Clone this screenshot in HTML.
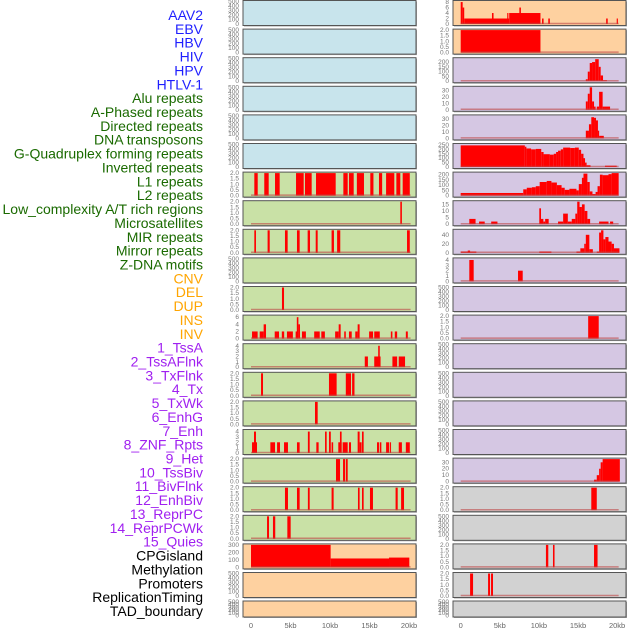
<!DOCTYPE html>
<html><head><meta charset="utf-8"><style>
body{margin:0;background:#fff;}
svg{display:block;font-family:"Liberation Sans",sans-serif;}
</style></head><body>
<svg id="chart" width="630" height="630" viewBox="0 0 630 630" xmlns="http://www.w3.org/2000/svg">
<g id="labels"></g>
<g id="panels"></g>
<g id="xaxes"></g>
</svg>
<script>
const labelNames = ["AAV2","EBV","HBV","HIV","HPV","HTLV-1","Alu repeats","A-Phased repeats","Directed repeats","DNA transposons","G-Quadruplex forming repeats","Inverted repeats","L1 repeats","L2 repeats","Low_complexity A/T rich regions","Microsatellites","MIR repeats","Mirror repeats","Z-DNA motifs","CNV","DEL","DUP","INS","INV","1_TssA","2_TssAFlnk","3_TxFlnk","4_Tx","5_TxWk","6_EnhG","7_Enh","8_ZNF_Rpts","9_Het","10_TssBiv","11_BivFlnk","12_EnhBiv","13_ReprPC","14_ReprPCWk","15_Quies","CPGisland","Methylation","Promoters","ReplicationTiming","TAD_boundary"];
const labelGroups = [0,0,0,0,0,0,1,1,1,1,1,1,1,1,1,1,1,1,1,2,2,2,2,2,3,3,3,3,3,3,3,3,3,3,3,3,3,3,3,4,4,4,4,4];
const xTickValues = [0,5,10,15,20];
const xTickLabels = ["0","5kb","10kb","15kb","20kb"];

// left column panels (kb start, kb end, value)
const leftBg = ["b","b","b","b","b","b","g","g","g","g","g","g","g","g","g","g","g","g","g","o","o","o"];
const leftYmax = [500,500,500,500,500,500,2,2,2,500,2,6.3,4.2,2,2,4.2,2,2,2,300,500,500];
const leftSegs = [
 [],[],[],[],[],[],
 [[0.42,0.85,2],[1.68,2.24,2],[3.04,3.63,2],[5.7,6.67,2],[6.83,7.68,2],[8.23,10.72,2],[11.69,12.24,2],[12.4,13.0,2],[13.4,14.3,2],[15.1,15.5,2],[16.2,16.6,2],[17.1,18.14,2],[18.4,18.9,2],[19.2,20.1,2]],
 [[18.9,19.1,2]],
 [[0.42,0.63,2],[2.1,2.37,2],[4.3,4.64,2],[5.82,6.16,2],[7.17,7.47,2],[8.19,8.44,2],[10.2,10.5,2],[10.9,11.3,2],[19.75,20.1,2]],
 [],
 [[3.92,4.18,2]],
 [[0.13,0.84,2],[1.1,1.6,2],[1.6,1.9,4],[3.0,3.55,2],[3.9,4.2,2],[4.55,5.3,2],[5.65,5.95,2],[6.0,6.2,4],[5.8,6.0,6],[6.45,6.95,2],[8.0,8.7,2],[8.9,9.35,2],[10.65,11.1,2],[11.1,11.35,4],[11.8,12.0,2],[12.4,12.75,2],[13.2,13.5,2],[13.5,13.75,4],[14.95,15.45,2],[15.6,16.3,2],[17.7,17.9,2],[18.2,18.5,2],[19.6,19.85,2]],
 [[14.4,14.8,2],[15.6,16.4,2],[16.1,16.3,4],[17.9,18.5,2],[18.7,19.5,2]],
 [[1.27,1.52,2],[9.87,10.84,2],[12.0,12.66,2],[12.8,13.1,2]],
 [[8.1,8.44,2]],
 [[0.13,0.76,2],[0.38,0.63,4],[2.45,3.04,2],[3.3,3.67,2],[4.18,4.68,2],[5.82,6.16,2],[7.2,7.43,4],[8.27,8.56,2],[9.37,9.58,4],[9.87,10.1,4],[10.2,10.4,2],[11.05,11.47,2],[11.26,11.47,4],[11.6,12.24,2],[12.4,12.66,2],[13.5,13.75,4],[13.75,14.0,2],[14.05,14.26,4],[15.95,16.2,2],[16.3,16.5,2],[17.1,17.5,2],[17.6,17.7,2],[18.7,19.1,2],[19.6,20.1,2]],
 [[10.76,11.27,2],[11.65,11.9,2],[12.0,12.24,2]],
 [[4.3,4.68,2],[5.82,6.16,2],[7.2,7.43,2],[10.2,10.46,2],[13.54,13.75,2],[14.05,14.26,2],[15.06,15.44,2],[18.3,18.57,2],[19.0,19.37,2]],
 [[2.03,2.28,2],[2.78,3.07,2],[4.6,5.02,2]],
 [[0,10.08,300],[10.08,17.47,119],[17.47,20.04,131]],
 [],[]
];

// right column panels
const rightBg = ["o","o","p","p","p","p","p","p","p","p","p","p","p","p","p","p","p","y","y","y","y","y"];
const rightYmax = [8.2,2,235,35,35,255,215,17,50,4.2,500,2,500,500,500,500,35,2,500,2,2,500];
const rightSegs = [
 [[0,0.25,8],[0.25,0.45,6],[0.45,6.2,2],[4.0,4.2,4],[5.95,6.1,4],[6.2,10.2,4],[7.5,7.7,6],[10.4,10.6,2],[11.2,11.4,2],[18.6,18.8,2],[19.95,20.1,2]],
 [[0,10.2,2]],
 [[16.0,16.25,20],[16.25,16.5,100],[16.5,16.8,190],[16.8,17.2,200],[17.2,17.65,230],[17.65,17.9,150],[17.9,18.2,60],[18.2,18.7,10]],
 [[16.0,16.25,13],[16.25,16.5,25],[16.5,16.8,35],[16.8,17.05,13],[17.05,17.25,5],[17.4,17.7,5],[17.7,18.15,28],[18.15,18.45,5],[18.45,19.1,5]],
 [[16.0,16.4,12],[16.4,16.7,22],[16.7,17.05,33],[17.05,17.3,32],[17.3,17.55,28],[17.55,17.7,12],[17.7,18.3,4]],
 [[0,8.2,245],[8.2,8.4,230],[8.4,9.0,210],[9.0,9.6,200],[9.6,10.3,205],[10.3,10.6,170],[10.6,11.4,145],[11.4,11.9,140],[11.9,12.2,150],[12.2,12.45,170],[12.45,12.8,185],[12.8,13.1,200],[13.1,14.0,220],[14.0,14.6,215],[14.6,15.1,220],[15.1,15.4,195],[15.4,15.7,150],[15.7,15.9,100],[15.9,16.1,50],[16.1,16.6,20],[18.45,19.95,15]],
 [[0,8.0,25],[8.0,8.45,60],[8.45,9.1,75],[9.1,9.6,80],[9.6,10.1,90],[10.1,11.0,130],[11.0,11.6,140],[11.6,12.3,125],[12.3,12.9,100],[12.9,13.3,75],[13.3,13.9,55],[13.9,14.8,65],[14.8,15.1,50],[15.1,15.5,110],[15.5,15.7,170],[15.7,16.2,210],[16.2,16.5,130],[16.5,16.85,40],[16.85,17.25,15],[17.25,17.5,35],[17.5,17.8,90],[17.8,18.15,200],[18.15,18.9,195],[18.9,19.3,205],[19.3,20.2,215]],
 [[1.1,1.9,4],[2.35,3.07,2],[3.9,4.7,2],[10.05,10.27,12],[10.27,10.57,4],[10.57,10.8,2],[10.8,11.25,4],[12.45,13.1,2],[13.1,13.7,8],[13.7,14.2,2],[14.2,14.66,4],[14.66,14.9,8],[14.9,15.2,17],[15.2,15.5,13],[15.5,15.85,15],[15.85,16.2,10],[16.2,16.55,4],[17.7,18.9,2],[19.1,19.5,2]],
 [[0,2.0,3],[0.9,1.2,5],[10.05,11.6,3],[14.8,15.3,3],[15.3,15.8,10],[15.8,16.0,20],[16.0,16.45,40],[16.45,16.9,8],[17.4,17.7,3],[17.7,17.95,45],[17.95,18.25,50],[18.25,18.5,30],[18.5,18.9,35],[18.9,19.3,25],[19.3,19.6,20],[19.6,20.3,10]],
 [[1.1,1.66,4],[7.33,7.93,2]],
 [],
 [[16.3,17.65,2]],
 [],[],[],[],
 [[17.05,17.4,3],[17.4,17.7,10],[17.7,17.9,20],[17.9,18.15,30],[18.15,20.35,35]],
 [[16.7,17.4,2]],
 [],
 [[10.9,11.2,2],[11.8,12.0,2],[17.05,17.5,2]],
 [[1.2,1.58,2],[3.5,3.75,2],[3.88,4.13,2]],
 []
];

const NS="http://www.w3.org/2000/svg";
function mk(tag,attrs,parent){const e=document.createElementNS(NS,tag);for(const k in attrs)e.setAttribute(k,attrs[k]);parent.appendChild(e);return e;}
const groupColors=["#1f1fff","#1a6a00","#ffa500","#a020f0","#000000"];
const bgColors={b:"#c8e4ec",g:"#c9e1a6",o:"#fed1a0",p:"#d5c7e3",y:"#d2d2d2"};
const labelsG=document.getElementById("labels");
labelNames.forEach((n,i)=>{
  const t=mk("text",{x:203,y:20+i*13.86,"text-anchor":"end","font-size":"14",fill:groupColors[labelGroups[i]]},labelsG);
  t.textContent=n;
  
  
});
const cols=[{x:243,w:173,x0:251,k:7.9,bg:leftBg,ym:leftYmax,segs:leftSegs,name:'left'},
            {x:453,w:173,x0:460.7,k:7.82,bg:rightBg,ym:rightYmax,segs:rightSegs,name:'right'}];
const panelsG=document.getElementById("panels");
function ticksFor(ym){
  if(ym===500) return [0,100,200,300,400,500];
  if(ym===2) return [0,0.5,1,1.5,2];
  if(ym>=6&&ym<7) return [0,2,4,6];
  if(ym>=8&&ym<9) return [0,2,4,6,8];
  if(ym>4&&ym<5) return [0,1,2,3,4];
  if(ym===35) return [0,10,20,30];
  if(ym===17) return [0,5,10,15];
  if(ym===50) return [0,20,40];
  if(ym===300) return [0,100,200,300];
  if(ym===255) return [0,50,100,150,200,250];
  return [0,50,100,150,200];
}
cols.forEach(c=>{
  for(let r=0;r<22;r++){
    const top=r<21?r*28.6+0.5:601, h=r<21?25:16;
    const g=mk("g",{},panelsG);
    
    
    mk("rect",{x:c.x+1,y:top+1,width:c.w,height:h,fill:"#a8a8a8"},g);
    mk("rect",{x:c.x,y:top,width:c.w,height:h,fill:bgColors[c.bg[r]],stroke:"#555",'stroke-width':1},g);
    const ym=c.ym[r], segs=c.segs[r];
    const yS=v=>top+h-1.5-(v/ym)*(h-2.5);
    const xS=kb=>c.x0+kb*c.k;
    ticksFor(ym).forEach(tv=>{
      const t=mk("text",{x:c.x-4,y:yS(tv)+2,'text-anchor':'end','font-size':'6.5',fill:'#777'},g);
      t.textContent=(ym===2)?tv.toFixed(1):String(tv);
      
      
    });
    segs.forEach(s=>{
      const y=yS(Math.min(s[2],ym));
      const b=mk("rect",{x:xS(s[0]),y:y,width:Math.max(1,xS(s[1])-xS(s[0])),height:yS(0)-y,fill:"#ff0000"},g);
      
      
    });
    if(segs.length){
      const l=mk("line",{x1:xS(0),x2:xS(20.2),y1:yS(0)-0.5,y2:yS(0)-0.5,stroke:"rgba(190,70,70,0.6)",'stroke-width':1.5},g);
      
      
    }
  }
  const ax=document.getElementById("xaxes");
  xTickValues.forEach((v,i)=>{
    const t=mk("text",{x:c.x0+v*c.k,y:628,'text-anchor':'middle','font-size':'7.5',fill:'#666'},ax);
    t.textContent=xTickLabels[i];
    
    
  });
});
</script>
</body></html>
